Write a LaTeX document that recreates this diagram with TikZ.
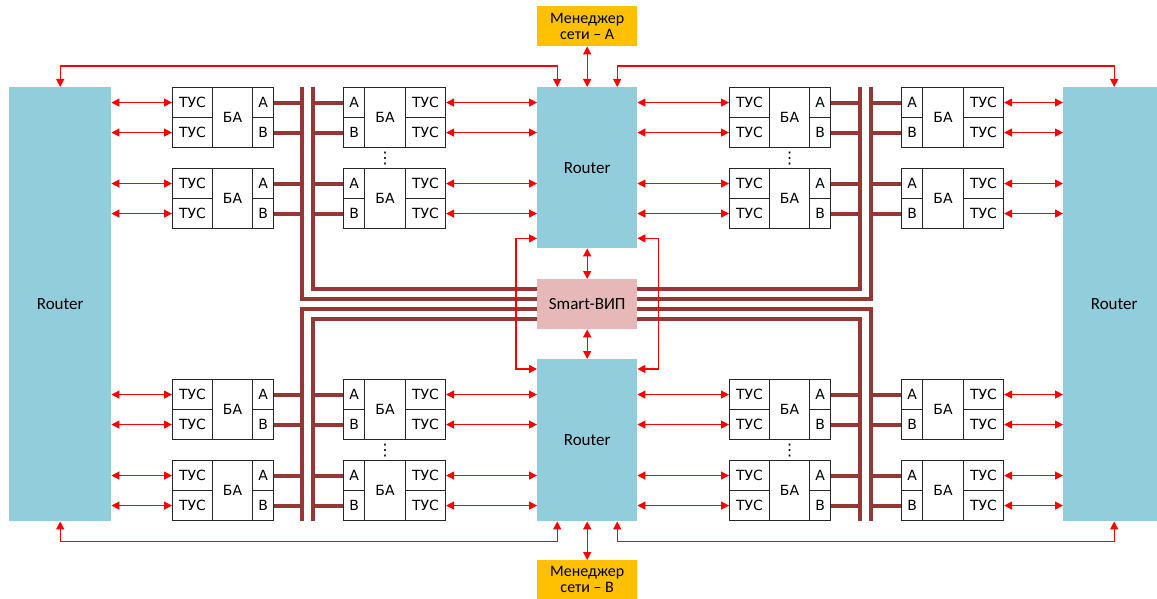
\documentclass[tikz,border=0pt]{standalone}
\usepackage{fontspec}
\setmainfont{Carlito}
\newfontfamily\djv{DejaVu Sans}
\usepackage{tikz}
\usetikzlibrary{arrows.meta,calc,backgrounds}
\definecolor{routerblue}{HTML}{92CDDC}
\definecolor{vippink}{HTML}{E6B9B8}
\definecolor{mgrorange}{HTML}{FFC000}
\definecolor{busred}{HTML}{953735}

\begin{document}
\begin{tikzpicture}[x=1pt, y=-1pt,
    cell/.style={rectangle, draw=black!85, line width=1.1pt, fill=white, inner sep=0pt,
                 anchor=north west, minimum height=30pt, font=\djv\fontsize{14}{16}\selectfont},
    router/.style={rectangle, fill=routerblue, inner sep=0pt, anchor=north west,
                   font=\fontsize{17}{20}\selectfont},
    mgr/.style={rectangle, fill=mgrorange, inner sep=0pt, anchor=north west, align=center,
                minimum width=100pt, font=\fontsize{16}{16}\selectfont},
    arr/.style={{Triangle[length=8pt,width=8pt]}-{Triangle[length=8pt,width=8pt]}, line width=1.3pt, red},
    bus/.style={line width=4pt, busred}
]
    \useasboundingbox (0,0) rectangle (1157,599);
    \clip (0,0) rectangle (1157,599);

    % modules: TUS | BA | A/B
    \foreach \n/\x in {a/172,c/729}
    \foreach \m/\y in {1/87,2/168,3/379,4/460} {
        \node[cell, minimum width=40pt] (\n\m-t1) at (\x,\y) {ТУС};
        \node[cell, minimum width=40pt] (\n\m-t2) at (\x,{\y+30}) {ТУС};
        \node[cell, minimum width=40pt, minimum height=60pt] (\n\m-ba) at ({\x+40},\y) {БА};
        \node[cell, minimum width=21pt] (\n\m-a) at ({\x+80},\y) {А};
        \node[cell, minimum width=21pt] (\n\m-b) at ({\x+80},{\y+30}) {В};
    }
    % modules: A/B | BA | TUS
    \foreach \n/\x in {b/343,d/901}
    \foreach \m/\y in {1/87,2/168,3/379,4/460} {
        \node[cell, minimum width=21pt] (\n\m-a) at (\x,\y) {А};
        \node[cell, minimum width=21pt] (\n\m-b) at (\x,{\y+30}) {В};
        \node[cell, minimum width=41pt, minimum height=60pt] (\n\m-ba) at ({\x+21},\y) {БА};
        \node[cell, minimum width=40pt] (\n\m-t1) at ({\x+62},\y) {ТУС};
        \node[cell, minimum width=40pt] (\n\m-t2) at ({\x+62},{\y+30}) {ТУС};
    }
    \foreach \n in {b,c}
    \foreach \m/\k in {1/2,3/4}
        \node[font=\djv\fontsize{16}{16}\selectfont, inner sep=0pt] (\n\m-dots)
            at ($(\n\m-ba.south)!0.5!(\n\k-ba.north)$) {⋮};

    % routers and managers
    \node[router, minimum width=102pt, minimum height=434pt] (rl) at (9,87) {Router};
    \node[router, minimum width=100pt, minimum height=161pt] (rt) at (537,87) {Router};
    \node[router, minimum width=100pt, minimum height=162pt] (rb) at (537,359) {Router};
    \node[router, minimum width=102pt, minimum height=434pt] (rr) at (1063,87) {Router};
    \node[router, fill=vippink, minimum width=100pt, minimum height=50pt] (vip) at (537,279) {Smart-ВИП};
    \node[mgr, minimum height=40pt] (mA) at (537,6) {Менеджер\\сети – А};
    \node[mgr, minimum height=39pt] (mB) at (537,560) {Менеджер\\сети – В};

    % buses
    \coordinate (busA) at (302,87);
    \coordinate (busB) at (313,87);
    \coordinate (busC) at (860,87);
    \coordinate (busD) at (871,87);
    \begin{scope}[on background layer]
        \draw[bus] (busA) -- (302,299) -- (871,299) -- (busD);
        \draw[bus] (busB) -- (313,289) -- (860,289) -- (busC);
        \draw[bus] (302,521) -- (302,309) -- (871,309) -- (871,521);
        \draw[bus] (313,521) -- (313,319) -- (860,319) -- (860,521);
        \foreach \m in {1,...,4}
        \foreach \p in {a,b} {
            \draw[bus] (a\m-\p.east) -- (a\m-\p.east -| busA);
            \draw[bus] (b\m-\p.west) -- (b\m-\p.west -| busB);
            \draw[bus] (c\m-\p.east) -- (c\m-\p.east -| busC);
            \draw[bus] (d\m-\p.west) -- (d\m-\p.west -| busD);
        }
    \end{scope}

    % links
    \foreach \m/\r in {1/rt,2/rt,3/rb,4/rb}
    \foreach \t in {t1,t2} {
        \draw[arr] (rl.east |- a\m-\t) -- (a\m-\t.west);
        \draw[arr] (b\m-\t.east) -- (\r.west |- b\m-\t);
        \draw[arr] (\r.east |- c\m-\t) -- (c\m-\t.west);
        \draw[arr] (d\m-\t.east) -- (rr.west |- d\m-\t);
    }
    \draw[arr] (rl.north) -- ++(0,-21) -| ([xshift=-30pt]rt.north);
    \draw[arr] ([xshift=30pt]rt.north) -- ++(0,-21) -| (rr.north);
    \draw[arr] (rl.south) -- ++(0,20) -| ([xshift=-30pt]rb.south);
    \draw[arr] ([xshift=30pt]rb.south) -- ++(0,20) -| (rr.south);
    \draw[arr] (mA) -- (rt);
    \draw[arr] (mB) -- (rb);
    \draw[arr] (vip) -- (rt);
    \draw[arr] (vip) -- (rb);
    \draw[arr] ([yshift=10pt]rt.south west) -- ++(-21,0) |- ([yshift=-10pt]rb.north west);
    \draw[arr] ([yshift=10pt]rt.south east) -- ++(21,0) |- ([yshift=-10pt]rb.north east);
\end{tikzpicture}
\end{document}
